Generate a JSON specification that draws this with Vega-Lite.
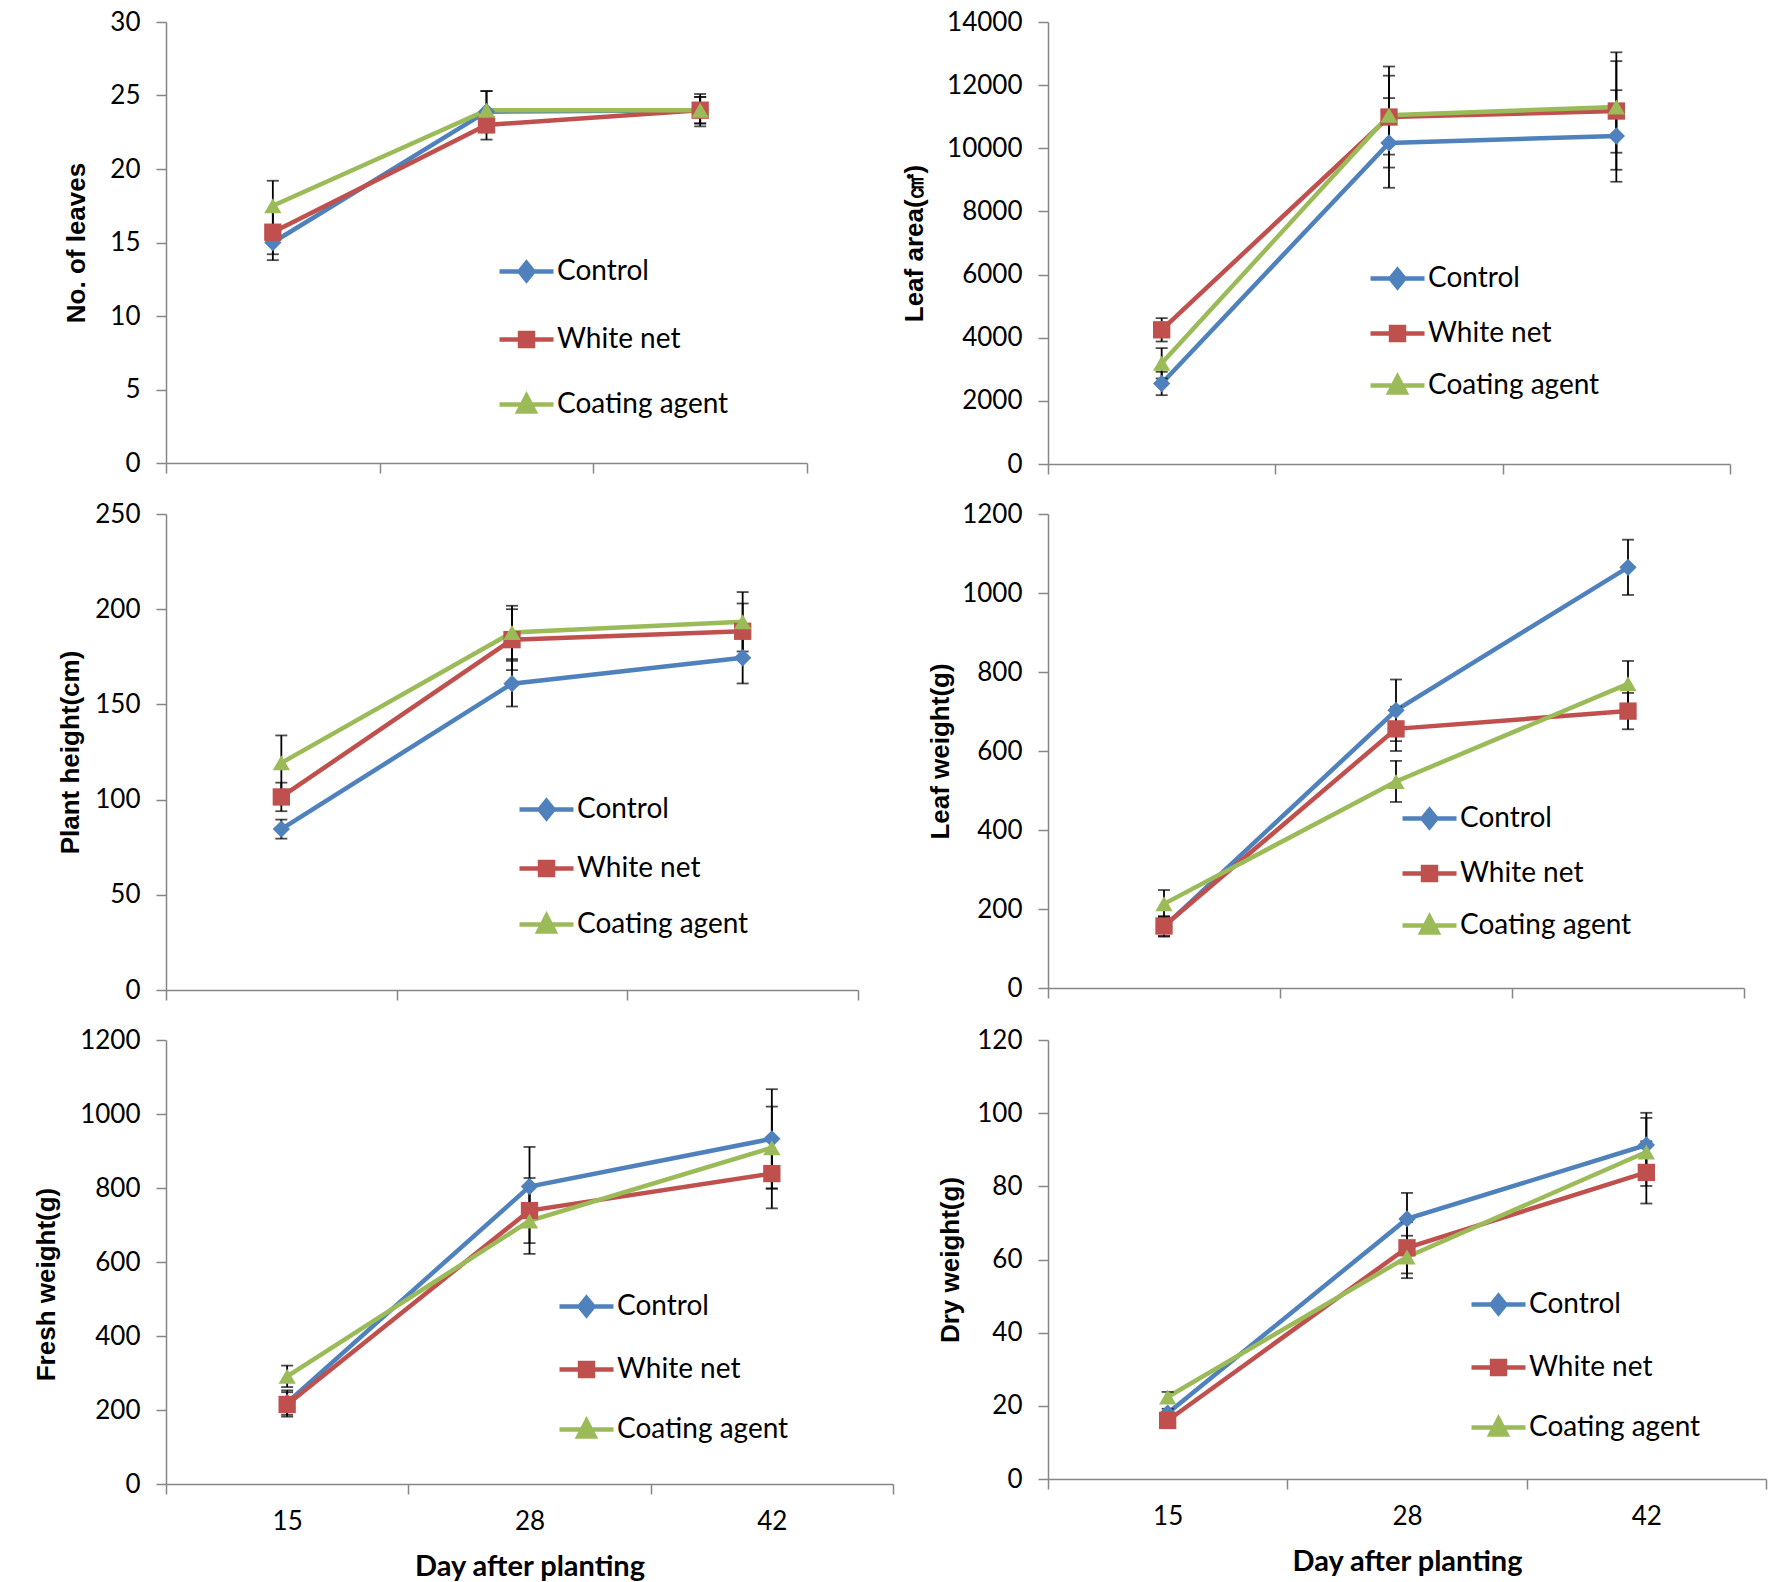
{
  "$schema": "https://vega.github.io/schema/vega-lite/v6.json",
  "padding": {"left": 33, "top": 9, "right": 5, "bottom": 5},
  "background": "white",
  "datasets": {
    "d": [
      {"p": "A", "day": 15, "s": "Control", "v": 15.0, "e": 1.2},
      {"p": "A", "day": 28, "s": "Control", "v": 23.9, "e": 1.4},
      {"p": "A", "day": 42, "s": "Control", "v": 24.0, "e": 0.9},
      {"p": "A", "day": 15, "s": "White net", "v": 15.7, "e": 1.5},
      {"p": "A", "day": 28, "s": "White net", "v": 23.0, "e": 1.0},
      {"p": "A", "day": 42, "s": "White net", "v": 24.0, "e": 1.1},
      {"p": "A", "day": 15, "s": "Coating agent", "v": 17.5, "e": 1.7},
      {"p": "A", "day": 28, "s": "Coating agent", "v": 24.0, "e": 1.3},
      {"p": "A", "day": 42, "s": "Coating agent", "v": 24.0, "e": 0.9},
      {"p": "B", "day": 15, "s": "Control", "v": 2550, "e": 370},
      {"p": "B", "day": 28, "s": "Control", "v": 10170, "e": 1420},
      {"p": "B", "day": 42, "s": "Control", "v": 10390, "e": 1450},
      {"p": "B", "day": 15, "s": "White net", "v": 4250, "e": 370},
      {"p": "B", "day": 28, "s": "White net", "v": 10990, "e": 1600},
      {"p": "B", "day": 42, "s": "White net", "v": 11180, "e": 1860},
      {"p": "B", "day": 15, "s": "Coating agent", "v": 3190, "e": 480},
      {"p": "B", "day": 28, "s": "Coating agent", "v": 11050, "e": 1250},
      {"p": "B", "day": 42, "s": "Coating agent", "v": 11310, "e": 1450},
      {"p": "C", "day": 15, "s": "Control", "v": 84.5, "e": 5},
      {"p": "C", "day": 28, "s": "Control", "v": 160.9, "e": 12},
      {"p": "C", "day": 42, "s": "Control", "v": 174.5, "e": 13.5},
      {"p": "C", "day": 15, "s": "White net", "v": 101.4, "e": 7.5},
      {"p": "C", "day": 28, "s": "White net", "v": 184.0, "e": 16},
      {"p": "C", "day": 42, "s": "White net", "v": 188.4, "e": 14.6},
      {"p": "C", "day": 15, "s": "Coating agent", "v": 119.3, "e": 14.4},
      {"p": "C", "day": 28, "s": "Coating agent", "v": 187.8, "e": 14},
      {"p": "C", "day": 42, "s": "Coating agent", "v": 193.4, "e": 15.6},
      {"p": "D", "day": 15, "s": "Control", "v": 155, "e": 25},
      {"p": "D", "day": 28, "s": "Control", "v": 703, "e": 78},
      {"p": "D", "day": 42, "s": "Control", "v": 1065, "e": 70},
      {"p": "D", "day": 15, "s": "White net", "v": 157, "e": 25},
      {"p": "D", "day": 28, "s": "White net", "v": 656, "e": 56},
      {"p": "D", "day": 42, "s": "White net", "v": 701, "e": 46},
      {"p": "D", "day": 15, "s": "Coating agent", "v": 213, "e": 35},
      {"p": "D", "day": 28, "s": "Coating agent", "v": 523, "e": 52},
      {"p": "D", "day": 42, "s": "Coating agent", "v": 770, "e": 58},
      {"p": "E", "day": 15, "s": "Control", "v": 220, "e": 33},
      {"p": "E", "day": 28, "s": "Control", "v": 804, "e": 107},
      {"p": "E", "day": 42, "s": "Control", "v": 933, "e": 134},
      {"p": "E", "day": 15, "s": "White net", "v": 215, "e": 33},
      {"p": "E", "day": 28, "s": "White net", "v": 739, "e": 88},
      {"p": "E", "day": 42, "s": "White net", "v": 839, "e": 94},
      {"p": "E", "day": 15, "s": "Coating agent", "v": 291, "e": 29},
      {"p": "E", "day": 28, "s": "Coating agent", "v": 711, "e": 89},
      {"p": "E", "day": 42, "s": "Coating agent", "v": 909, "e": 111},
      {"p": "F", "day": 15, "s": "Control", "v": 18.0, "e": 1.2},
      {"p": "F", "day": 28, "s": "Control", "v": 71.1, "e": 7.1},
      {"p": "F", "day": 42, "s": "Control", "v": 91.3, "e": 8.8},
      {"p": "F", "day": 15, "s": "White net", "v": 16.0, "e": 1.0},
      {"p": "F", "day": 28, "s": "White net", "v": 63.2, "e": 7.0},
      {"p": "F", "day": 42, "s": "White net", "v": 83.8, "e": 8.5},
      {"p": "F", "day": 15, "s": "Coating agent", "v": 22.4, "e": 1.4},
      {"p": "F", "day": 28, "s": "Coating agent", "v": 60.7, "e": 5.8},
      {"p": "F", "day": 42, "s": "Coating agent", "v": 89.4, "e": 9.3}
    ]
  },
  "bounds": "flush",
  "columns": 2,
  "align": {"row": "none", "column": "each"},
  "spacing": {"row": 50, "column": 155},
  "resolve": {"scale": {"color": "independent"}, "legend": {"color": "independent"}},
  "concat": [
    {
      "width": 641, "height": 441,
      "data": {"name": "d"},
      "transform": [{"filter": "datum.p === 'A'"}],
      "encoding": {
        "x": {"field": "day", "type": "ordinal", "scale": {"type": "band", "paddingInner": 0, "paddingOuter": 0}, "axis": {"labels": false, "title": null, "tickBand": "extent"}},
        "y": {"field": "v", "type": "quantitative", "scale": {"domain": [0, 30], "nice": false}, "axis": {"title": "No. of leaves", "values": [0, 5, 10, 15, 20, 25, 30], "format": "d", "titleX": -90, "titleBaseline": "middle"}}
      },
      "layer": [
        {"mark": {"type": "line", "strokeWidth": 4.5}, "encoding": {"color": {"field": "s", "type": "nominal", "sort": ["Control", "White net", "Coating agent"], "scale": {"domain": ["Control", "White net", "Coating agent"], "range": ["#4F81BD", "#C0504D", "#9BBB59"]},
          "legend": {"orient": "none", "legendX": 331, "legendY": 220, "title": null, "symbolSize": 2916, "rowPadding": 20, "labelFont": "Lato", "labelFontSize": 28, "labelColor": "#000000", "labelOffset": 1, "labelLimit": 400, "padding": 0,
            "encode": {"symbols": {"update": {"shape": {"signal": "datum.value === 'Control' ? 'M-1,0H1M0,-0.32L0.26,0L0,0.32L-0.26,0Z' : datum.value === 'White net' ? 'M-1,0H1M-0.24,-0.24H0.24V0.24H-0.24Z' : 'M-1,0H1M0,-0.32L0.3,0.26H-0.3Z'"}, "fill": {"signal": "datum.value === 'Control' ? '#4F81BD' : datum.value === 'White net' ? '#C0504D' : '#9BBB59'"}, "stroke": {"signal": "datum.value === 'Control' ? '#4F81BD' : datum.value === 'White net' ? '#C0504D' : '#9BBB59'"}, "strokeWidth": {"value": 4.5}, "opacity": {"value": 1}, "fillOpacity": {"value": 1}, "strokeOpacity": {"value": 1}}}}}}}},
        {"mark": {"type": "errorbar", "ticks": {"size": 12, "thickness": 1.8, "color": "#000000"}, "rule": {"strokeWidth": 1.8, "color": "#000000"}}, "encoding": {"yError": {"field": "e"}}},
        {"mark": {"type": "point", "filled": true, "opacity": 1, "size": 300}, "encoding": {"color": {"field": "s", "type": "nominal", "legend": null}, "shape": {"field": "s", "type": "nominal", "scale": {"domain": ["Control", "White net", "Coating agent"], "range": ["diamond", "square", "triangle-up"]}, "legend": null}}}
      ]
    },
    {
      "width": 682, "height": 442,
      "data": {"name": "d"},
      "transform": [{"filter": "datum.p === 'B'"}],
      "encoding": {
        "x": {"field": "day", "type": "ordinal", "scale": {"type": "band", "paddingInner": 0, "paddingOuter": 0}, "axis": {"labels": false, "title": null, "tickBand": "extent"}},
        "y": {"field": "v", "type": "quantitative", "scale": {"domain": [0, 14000], "nice": false}, "axis": {"title": "Leaf area(㎠)", "values": [0, 2000, 4000, 6000, 8000, 10000, 12000, 14000], "format": "d", "titleX": -134, "titleBaseline": "middle"}}
      },
      "layer": [
        {"mark": {"type": "line", "strokeWidth": 4.5}, "encoding": {"color": {"field": "s", "type": "nominal", "sort": ["Control", "White net", "Coating agent"], "scale": {"domain": ["Control", "White net", "Coating agent"], "range": ["#4F81BD", "#C0504D", "#9BBB59"]},
          "legend": {"orient": "none", "legendX": 320, "legendY": 227, "title": null, "symbolSize": 2916, "rowPadding": 7, "labelFont": "Lato", "labelFontSize": 28, "labelColor": "#000000", "labelOffset": 1, "labelLimit": 400, "padding": 0,
            "encode": {"symbols": {"update": {"shape": {"signal": "datum.value === 'Control' ? 'M-1,0H1M0,-0.32L0.26,0L0,0.32L-0.26,0Z' : datum.value === 'White net' ? 'M-1,0H1M-0.24,-0.24H0.24V0.24H-0.24Z' : 'M-1,0H1M0,-0.32L0.3,0.26H-0.3Z'"}, "fill": {"signal": "datum.value === 'Control' ? '#4F81BD' : datum.value === 'White net' ? '#C0504D' : '#9BBB59'"}, "stroke": {"signal": "datum.value === 'Control' ? '#4F81BD' : datum.value === 'White net' ? '#C0504D' : '#9BBB59'"}, "strokeWidth": {"value": 4.5}, "opacity": {"value": 1}, "fillOpacity": {"value": 1}, "strokeOpacity": {"value": 1}}}}}}}},
        {"mark": {"type": "errorbar", "ticks": {"size": 12, "thickness": 1.8, "color": "#000000"}, "rule": {"strokeWidth": 1.8, "color": "#000000"}}, "encoding": {"yError": {"field": "e"}}},
        {"mark": {"type": "point", "filled": true, "opacity": 1, "size": 300}, "encoding": {"color": {"field": "s", "type": "nominal", "legend": null}, "shape": {"field": "s", "type": "nominal", "scale": {"domain": ["Control", "White net", "Coating agent"], "range": ["diamond", "square", "triangle-up"]}, "legend": null}}}
      ]
    },
    {
      "width": 692, "height": 476,
      "data": {"name": "d"},
      "transform": [{"filter": "datum.p === 'C'"}],
      "encoding": {
        "x": {"field": "day", "type": "ordinal", "scale": {"type": "band", "paddingInner": 0, "paddingOuter": 0}, "axis": {"labels": false, "title": null, "tickBand": "extent"}},
        "y": {"field": "v", "type": "quantitative", "scale": {"domain": [0, 250], "nice": false}, "axis": {"title": "Plant height(cm)", "values": [0, 50, 100, 150, 200, 250], "format": "d", "titleX": -96, "titleBaseline": "middle"}}
      },
      "layer": [
        {"mark": {"type": "line", "strokeWidth": 4.5}, "encoding": {"color": {"field": "s", "type": "nominal", "sort": ["Control", "White net", "Coating agent"], "scale": {"domain": ["Control", "White net", "Coating agent"], "range": ["#4F81BD", "#C0504D", "#9BBB59"]},
          "legend": {"orient": "none", "legendX": 351, "legendY": 266, "title": null, "symbolSize": 2916, "rowPadding": 11, "labelFont": "Lato", "labelFontSize": 28, "labelColor": "#000000", "labelOffset": 1, "labelLimit": 400, "padding": 0,
            "encode": {"symbols": {"update": {"shape": {"signal": "datum.value === 'Control' ? 'M-1,0H1M0,-0.32L0.26,0L0,0.32L-0.26,0Z' : datum.value === 'White net' ? 'M-1,0H1M-0.24,-0.24H0.24V0.24H-0.24Z' : 'M-1,0H1M0,-0.32L0.3,0.26H-0.3Z'"}, "fill": {"signal": "datum.value === 'Control' ? '#4F81BD' : datum.value === 'White net' ? '#C0504D' : '#9BBB59'"}, "stroke": {"signal": "datum.value === 'Control' ? '#4F81BD' : datum.value === 'White net' ? '#C0504D' : '#9BBB59'"}, "strokeWidth": {"value": 4.5}, "opacity": {"value": 1}, "fillOpacity": {"value": 1}, "strokeOpacity": {"value": 1}}}}}}}},
        {"mark": {"type": "errorbar", "ticks": {"size": 12, "thickness": 1.8, "color": "#000000"}, "rule": {"strokeWidth": 1.8, "color": "#000000"}}, "encoding": {"yError": {"field": "e"}}},
        {"mark": {"type": "point", "filled": true, "opacity": 1, "size": 300}, "encoding": {"color": {"field": "s", "type": "nominal", "legend": null}, "shape": {"field": "s", "type": "nominal", "scale": {"domain": ["Control", "White net", "Coating agent"], "range": ["diamond", "square", "triangle-up"]}, "legend": null}}}
      ]
    },
    {
      "width": 696, "height": 474,
      "data": {"name": "d"},
      "transform": [{"filter": "datum.p === 'D'"}],
      "encoding": {
        "x": {"field": "day", "type": "ordinal", "scale": {"type": "band", "paddingInner": 0, "paddingOuter": 0}, "axis": {"labels": false, "title": null, "tickBand": "extent"}},
        "y": {"field": "v", "type": "quantitative", "scale": {"domain": [0, 1200], "nice": false}, "axis": {"title": "Leaf weight(g)", "values": [0, 200, 400, 600, 800, 1000, 1200], "format": "d", "titleX": -108, "titleBaseline": "middle"}}
      },
      "layer": [
        {"mark": {"type": "line", "strokeWidth": 4.5}, "encoding": {"color": {"field": "s", "type": "nominal", "sort": ["Control", "White net", "Coating agent"], "scale": {"domain": ["Control", "White net", "Coating agent"], "range": ["#4F81BD", "#C0504D", "#9BBB59"]},
          "legend": {"orient": "none", "legendX": 352, "legendY": 275, "title": null, "symbolSize": 2916, "rowPadding": 7, "labelFont": "Lato", "labelFontSize": 28, "labelColor": "#000000", "labelOffset": 1, "labelLimit": 400, "padding": 0,
            "encode": {"symbols": {"update": {"shape": {"signal": "datum.value === 'Control' ? 'M-1,0H1M0,-0.32L0.26,0L0,0.32L-0.26,0Z' : datum.value === 'White net' ? 'M-1,0H1M-0.24,-0.24H0.24V0.24H-0.24Z' : 'M-1,0H1M0,-0.32L0.3,0.26H-0.3Z'"}, "fill": {"signal": "datum.value === 'Control' ? '#4F81BD' : datum.value === 'White net' ? '#C0504D' : '#9BBB59'"}, "stroke": {"signal": "datum.value === 'Control' ? '#4F81BD' : datum.value === 'White net' ? '#C0504D' : '#9BBB59'"}, "strokeWidth": {"value": 4.5}, "opacity": {"value": 1}, "fillOpacity": {"value": 1}, "strokeOpacity": {"value": 1}}}}}}}},
        {"mark": {"type": "errorbar", "ticks": {"size": 12, "thickness": 1.8, "color": "#000000"}, "rule": {"strokeWidth": 1.8, "color": "#000000"}}, "encoding": {"yError": {"field": "e"}}},
        {"mark": {"type": "point", "filled": true, "opacity": 1, "size": 300}, "encoding": {"color": {"field": "s", "type": "nominal", "legend": null}, "shape": {"field": "s", "type": "nominal", "scale": {"domain": ["Control", "White net", "Coating agent"], "range": ["diamond", "square", "triangle-up"]}, "legend": null}}}
      ]
    },
    {
      "width": 727, "height": 444,
      "data": {"name": "d"},
      "transform": [{"filter": "datum.p === 'E'"}],
      "encoding": {
        "x": {"field": "day", "type": "ordinal", "scale": {"type": "band", "paddingInner": 0, "paddingOuter": 0}, "axis": {"labels": true, "labelAngle": 0, "title": "Day after planting", "tickBand": "extent", "labelPadding": 14, "titleY": 82, "titleBaseline": "middle"}},
        "y": {"field": "v", "type": "quantitative", "scale": {"domain": [0, 1200], "nice": false}, "axis": {"title": "Fresh weight(g)", "values": [0, 200, 400, 600, 800, 1000, 1200], "format": "d", "titleX": -120, "titleY": 244, "titleBaseline": "middle"}}
      },
      "layer": [
        {"mark": {"type": "line", "strokeWidth": 4.5}, "encoding": {"color": {"field": "s", "type": "nominal", "sort": ["Control", "White net", "Coating agent"], "scale": {"domain": ["Control", "White net", "Coating agent"], "range": ["#4F81BD", "#C0504D", "#9BBB59"]},
          "legend": {"orient": "none", "legendX": 391, "legendY": 237, "title": null, "symbolSize": 2916, "rowPadding": 15, "labelFont": "Lato", "labelFontSize": 28, "labelColor": "#000000", "labelOffset": 1, "labelLimit": 400, "padding": 0,
            "encode": {"symbols": {"update": {"shape": {"signal": "datum.value === 'Control' ? 'M-1,0H1M0,-0.32L0.26,0L0,0.32L-0.26,0Z' : datum.value === 'White net' ? 'M-1,0H1M-0.24,-0.24H0.24V0.24H-0.24Z' : 'M-1,0H1M0,-0.32L0.3,0.26H-0.3Z'"}, "fill": {"signal": "datum.value === 'Control' ? '#4F81BD' : datum.value === 'White net' ? '#C0504D' : '#9BBB59'"}, "stroke": {"signal": "datum.value === 'Control' ? '#4F81BD' : datum.value === 'White net' ? '#C0504D' : '#9BBB59'"}, "strokeWidth": {"value": 4.5}, "opacity": {"value": 1}, "fillOpacity": {"value": 1}, "strokeOpacity": {"value": 1}}}}}}}},
        {"mark": {"type": "errorbar", "ticks": {"size": 12, "thickness": 1.8, "color": "#000000"}, "rule": {"strokeWidth": 1.8, "color": "#000000"}}, "encoding": {"yError": {"field": "e"}}},
        {"mark": {"type": "point", "filled": true, "opacity": 1, "size": 300}, "encoding": {"color": {"field": "s", "type": "nominal", "legend": null}, "shape": {"field": "s", "type": "nominal", "scale": {"domain": ["Control", "White net", "Coating agent"], "range": ["diamond", "square", "triangle-up"]}, "legend": null}}}
      ]
    },
    {
      "width": 718, "height": 439,
      "data": {"name": "d"},
      "transform": [{"filter": "datum.p === 'F'"}],
      "encoding": {
        "x": {"field": "day", "type": "ordinal", "scale": {"type": "band", "paddingInner": 0, "paddingOuter": 0}, "axis": {"labels": true, "labelAngle": 0, "title": "Day after planting", "tickBand": "extent", "labelPadding": 14, "titleY": 82, "titleBaseline": "middle"}},
        "y": {"field": "v", "type": "quantitative", "scale": {"domain": [0, 120], "nice": false}, "axis": {"title": "Dry weight(g)", "values": [0, 20, 40, 60, 80, 100, 120], "format": "d", "titleX": -98, "titleBaseline": "middle"}}
      },
      "layer": [
        {"mark": {"type": "line", "strokeWidth": 4.5}, "encoding": {"color": {"field": "s", "type": "nominal", "sort": ["Control", "White net", "Coating agent"], "scale": {"domain": ["Control", "White net", "Coating agent"], "range": ["#4F81BD", "#C0504D", "#9BBB59"]},
          "legend": {"orient": "none", "legendX": 421, "legendY": 235, "title": null, "symbolSize": 2916, "rowPadding": 15, "labelFont": "Lato", "labelFontSize": 28, "labelColor": "#000000", "labelOffset": 1, "labelLimit": 400, "padding": 0,
            "encode": {"symbols": {"update": {"shape": {"signal": "datum.value === 'Control' ? 'M-1,0H1M0,-0.32L0.26,0L0,0.32L-0.26,0Z' : datum.value === 'White net' ? 'M-1,0H1M-0.24,-0.24H0.24V0.24H-0.24Z' : 'M-1,0H1M0,-0.32L0.3,0.26H-0.3Z'"}, "fill": {"signal": "datum.value === 'Control' ? '#4F81BD' : datum.value === 'White net' ? '#C0504D' : '#9BBB59'"}, "stroke": {"signal": "datum.value === 'Control' ? '#4F81BD' : datum.value === 'White net' ? '#C0504D' : '#9BBB59'"}, "strokeWidth": {"value": 4.5}, "opacity": {"value": 1}, "fillOpacity": {"value": 1}, "strokeOpacity": {"value": 1}}}}}}}},
        {"mark": {"type": "errorbar", "ticks": {"size": 12, "thickness": 1.8, "color": "#000000"}, "rule": {"strokeWidth": 1.8, "color": "#000000"}}, "encoding": {"yError": {"field": "e"}}},
        {"mark": {"type": "point", "filled": true, "opacity": 1, "size": 300}, "encoding": {"color": {"field": "s", "type": "nominal", "legend": null}, "shape": {"field": "s", "type": "nominal", "scale": {"domain": ["Control", "White net", "Coating agent"], "range": ["diamond", "square", "triangle-up"]}, "legend": null}}}
      ]
    }
  ],
  "config": {
    "view": {"stroke": null},
    "axis": {"grid": false, "domainColor": "#868686", "tickColor": "#868686", "domainWidth": 1.5, "tickWidth": 1.5, "tickSize": 10, "labelFont": "Lato", "labelFontSize": 26, "labelColor": "#000000", "titleColor": "#000000"},
    "axisY": {"labelPadding": 16, "titleFont": "Liberation Sans", "titleFontWeight": "bold", "titleFontSize": 26},
    "axisX": {"titleFont": "Lato", "titleFontWeight": "bold", "titleFontSize": 29}
  }
}
